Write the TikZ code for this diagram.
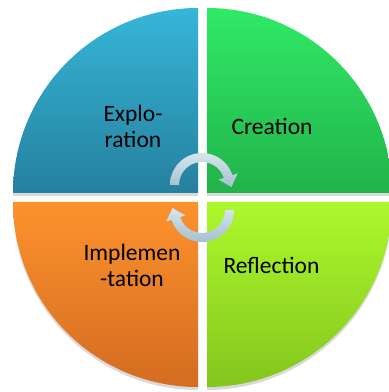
\documentclass[tikz,border=0pt]{standalone}
\usepackage{fontspec}
\setmainfont{Carlito}
\usepackage{color}
\definecolor{mybluetop}{RGB}{54,182,216}
\definecolor{mybluebot}{RGB}{38,128,158}
\definecolor{mygreentop}{RGB}{48,234,102}
\definecolor{mygreenbot}{RGB}{34,178,74}
\definecolor{myorangetop}{RGB}{252,146,44}
\definecolor{myorangebot}{RGB}{212,108,34}
\definecolor{mylimetop}{RGB}{172,248,44}
\definecolor{mylimebot}{RGB}{132,198,30}
\definecolor{myarrowtop}{RGB}{214,230,238}
\definecolor{myarrowbot}{RGB}{164,192,208}
\usepackage{tikz}
\usetikzlibrary{calc,shadows,positioning}
\tikzstyle{quarter}=[drop shadow={shadow xshift=0pt,shadow yshift=-3pt,opacity=0.3}]
\tikzstyle{phase}=[font=\fontsize{23.5}{26}\selectfont,align=center,inner sep=0pt]
\tikzstyle{turn}=[top color=myarrowtop,bottom color=myarrowbot]

\begin{document}
\begin{tikzpicture}[x=1pt,y=1pt]
\useasboundingbox (0,0) rectangle (389,392);
\clip (0,0) rectangle (389,392);
\coordinate (tl) at (198,199);
\coordinate (tr) at (207,199);
\coordinate (bl) at (198,190);
\coordinate (br) at (207,190);
\shade[quarter,top color=mybluetop,bottom color=mybluebot] (tl) -- ++(-185,0) arc[start angle=180,end angle=90,radius=185] -- cycle;
\shade[quarter,top color=mygreentop,bottom color=mygreenbot] (tr) -- ++(0,185) arc[start angle=90,end angle=0,radius=185] -- cycle;
\shade[quarter,top color=myorangetop,bottom color=myorangebot] (bl) -- ++(0,-185) arc[start angle=270,end angle=180,radius=185] -- cycle;
\shade[quarter,top color=mylimetop,bottom color=mylimebot] (br) -- ++(185,0) arc[start angle=360,end angle=270,radius=185] -- cycle;

\node[phase] (exploration) at (133,266) {Explo-\\ration};
\node[phase,anchor=base] (creation) at (272,257) {Creation};
\node[phase,anchor=base] (reflection) at (271.5,118) {Reflection};
\node[phase] (implementation) at (132,127) {Implemen\\-tation};

\coordinate (upc) at (202,207);
\coordinate (lowc) at (202,182);
\shade[turn] ($(upc)+(180:32)$) arc[start angle=180,end angle=18,radius=32]
  -- ($(upc)+(18:37.5)$) -- ($(upc)+(18:27.5)+(-72:11)$) -- ($(upc)+(18:17.5)$)
  -- ($(upc)+(18:23)$) arc[start angle=18,end angle=180,radius=23] -- cycle;
\shade[turn] ($(lowc)+(0:32)$) arc[start angle=0,end angle=-162,radius=32]
  -- ($(lowc)+(-162:37.5)$) -- ($(lowc)+(-162:27.5)+(108:11)$) -- ($(lowc)+(-162:17.5)$)
  -- ($(lowc)+(-162:23)$) arc[start angle=-162,end angle=0,radius=23] -- cycle;
\end{tikzpicture}
\end{document}
